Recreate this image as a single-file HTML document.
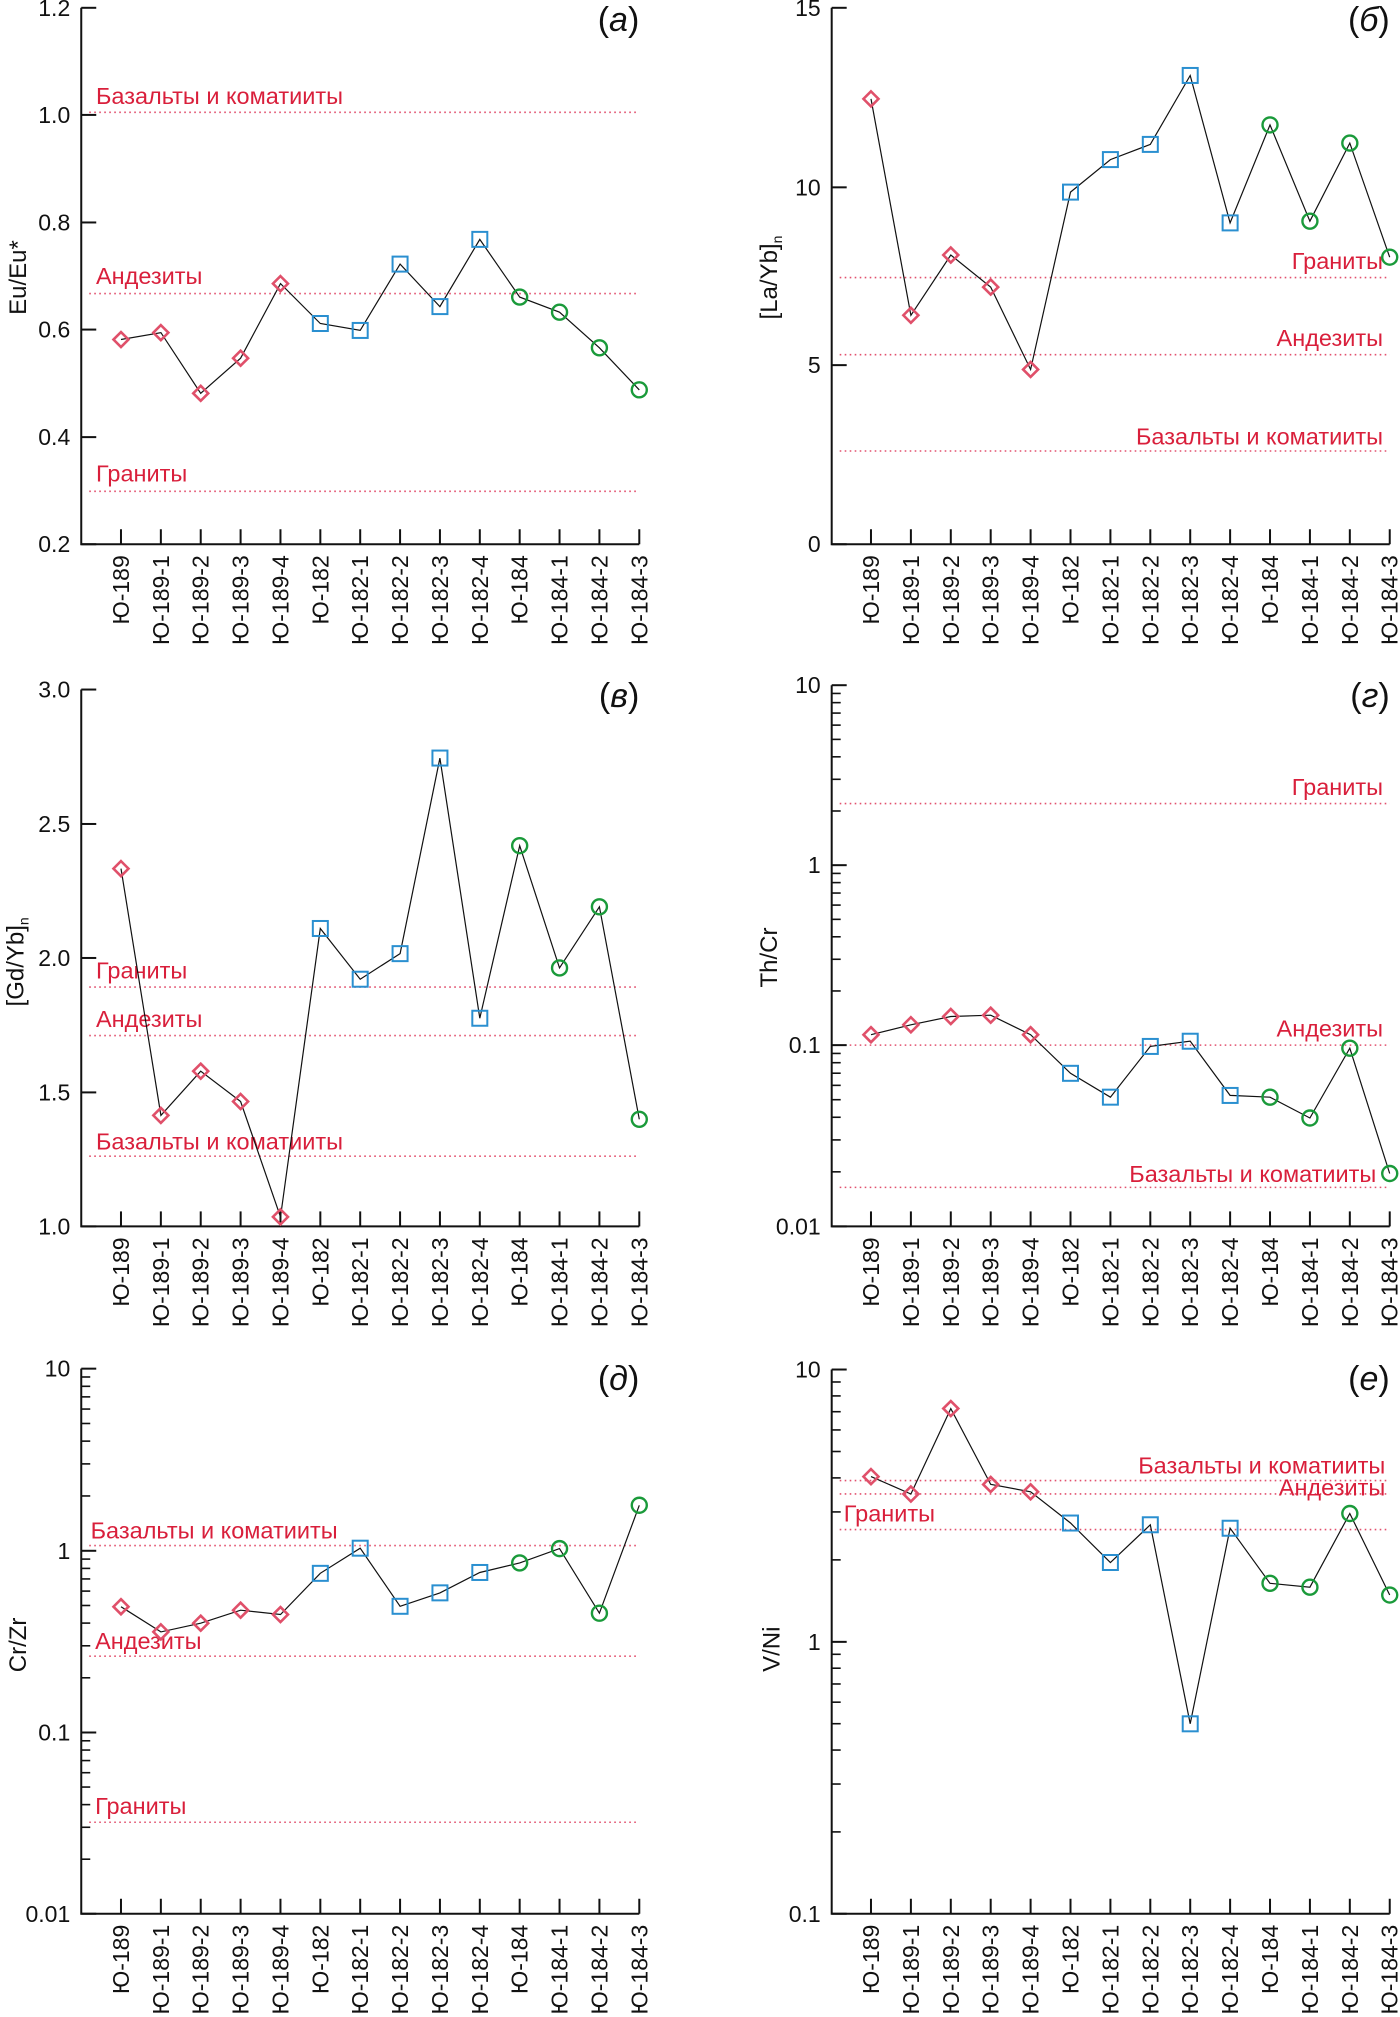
<!DOCTYPE html>
<html><head><meta charset="utf-8">
<style>
html,body{margin:0;padding:0;background:#fff;}
svg{display:block;}
text{font-family:"Liberation Sans",Arial,sans-serif;}
</style></head>
<body>
<svg id="s" width="1400" height="2017" xmlns="http://www.w3.org/2000/svg"></svg>
<script>
var NS="http://www.w3.org/2000/svg";
var S=document.getElementById('s');
function el(t,a,txt){var e=document.createElementNS(NS,t);for(var k in a)e.setAttribute(k,a[k]);if(txt!==undefined)e.textContent=txt;S.appendChild(e);return e;}
var labels=["Ю-189","Ю-189-1","Ю-189-2","Ю-189-3","Ю-189-4","Ю-182","Ю-182-1","Ю-182-2","Ю-182-3","Ю-182-4","Ю-184","Ю-184-1","Ю-184-2","Ю-184-3"];
var RED="#d91f3b",LRED="#e2506e",PINK="#e0506a",BLUE="#2a8fd0",GREEN="#1a9a3a";
var panels=[
{xo:0,yo:0,ax:182,t0:271,t1:1432,top:18,bot:1255,lin:[["1.2",18],["1.0",265],["0.8",513],["0.6",760],["0.4",1008],["0.2",1255]],
 h:[[259,"Базальты и коматииты",215,240,"start"],[677,"Андезиты",215,655,"start"],[1133,"Граниты",215,1110,"start"]],
 pts:[783,767,907,826,654,746,762,609,707,552,685,720,802,899],lab:"а",lb:72,title:"Eu/Eu*",tx:40,ty:640},
{xo:700,yo:0,ax:295,t0:383,t1:1545,top:18,bot:1255,lin:[["15",18],["10",432],["5",842],["0",1255]],
 h:[[640,"Граниты",1530,620,"end"],[818,"Андезиты",1530,798,"end"],[1040,"Базальты и коматииты",1530,1025,"end"]],
 pts:[228,727,588,662,852,443,368,333,174,514,288,510,330,593],lab:"б",lb:72,title:"[La/Yb]",sub:"n",tx:155,ty:640},
{xo:0,yo:680,ax:182,t0:271,t1:1432,top:22,bot:1260,lin:[["3.0",22],["2.5",332],["2.0",641],["1.5",951],["1.0",1260]],
 h:[[708,"Граниты",215,688,"start"],[820,"Андезиты",215,800,"start"],[1098,"Базальты и коматииты",215,1083,"start"]],
 pts:[435,1004,902,972,1238,573,690,631,180,780,382,664,523,1013],lab:"в",lb:62,title:"[Gd/Yb]",sub:"n",tx:35,ty:650},
{xo:700,yo:680,ax:295,t0:383,t1:1545,top:12,bot:1260,log:[["10",12],["1",427],["0.1",842],["0.01",1260]],
 h:[[285,"Граниты",1530,265,"end"],[842,"Андезиты",1530,822,"end"],[1170,"Базальты и коматииты",1515,1158,"end"]],
 pts:[818,795,776,773,818,907,962,845,833,958,962,1010,849,1138],lab:"г",lb:62,title:"Th/Cr",tx:155,ty:640},
{xo:0,yo:1337,ax:182,t0:271,t1:1432,top:73,bot:1330,log:[["10",73],["1",493],["0.1",912],["0.01",1330]],
 h:[[481,"Базальты и коматииты",203,465,"start"],[736,"Андезиты",213,720,"start"],[1119,"Граниты",213,1100,"start"]],
 pts:[622,680,660,630,640,545,487,621,590,543,521,488,637,388],lab:"д",lb:122,title:"Cr/Zr",tx:40,ty:710},
{xo:700,yo:1337,ax:295,t0:383,t1:1545,top:75,bot:1330,log:[["10",75],["1",703],["0.1",1330]],
 h:[[331,"Базальты и коматииты",1535,315,"end"],[362,"Андезиты",1535,366,"end"],[444,"Граниты",322,425,"start"]],
 pts:[322,362,165,340,357,429,520,433,892,441,568,577,407,595],lab:"е",lb:122,title:"V/Ni",tx:160,ty:720}
];
panels.forEach(function(p){
 var X=function(z){return p.xo+z/2.24;}, Y=function(z){return p.yo+z/2.306;};
 var ax=X(p.ax), x1=X(p.t1), yb=Y(p.bot), yt=Y(p.top);
 p.h.forEach(function(h){
  el('line',{x1:ax+8,x2:x1,y1:Y(h[0]),y2:Y(h[0]),stroke:LRED,'stroke-width':1.6,'stroke-dasharray':'1.6 3.4'});
  el('text',{x:X(h[2]),y:Y(h[3]),'font-size':23.5,fill:RED,'text-anchor':h[4]},h[1]);
 });
 el('path',{d:'M'+ax+' '+yt+' L'+ax+' '+yb+' L'+x1+' '+yb,fill:'none',stroke:'#111','stroke-width':2});
 var tl=p.lin||p.log;
 tl.forEach(function(t){var y=Y(t[1]);
  el('line',{x1:ax,x2:ax+15,y1:y,y2:y,stroke:'#111','stroke-width':2});
  el('text',{x:ax-11,y:y+8,'font-size':23,'text-anchor':'end',fill:'#111'},t[0]);});
 if(p.log){for(var i=0;i<p.log.length-1;i++){var ya=Y(p.log[i+1][1]),yh=Y(p.log[i][1]);
  for(var m=2;m<=9;m++){var y=ya-(ya-yh)*Math.log10(m);
   el('line',{x1:ax,x2:ax+9,y1:y,y2:y,stroke:'#111','stroke-width':1.6});}}}
 var xs=[];for(var i=0;i<14;i++){var x=X(p.t0+i*(p.t1-p.t0)/13);xs.push(x);
  el('line',{x1:x,x2:x,y1:yb,y2:yb-15,stroke:'#111','stroke-width':2});
  el('text',{transform:'translate('+(x+8)+','+(yb+11)+') rotate(-90)','font-size':23,'text-anchor':'end',fill:'#111'},labels[i]);}
 var d='';for(var i=0;i<14;i++)d+=(i?'L':'M')+xs[i].toFixed(1)+' '+Y(p.pts[i]).toFixed(1)+' ';
 el('path',{d:d,fill:'none',stroke:'#111','stroke-width':1.2});
 for(var i=0;i<14;i++){var x=xs[i],y=Y(p.pts[i]);
  if(i<5)el('path',{d:'M'+x+' '+(y-7.5)+' L'+(x+7.5)+' '+y+' L'+x+' '+(y+7.5)+' L'+(x-7.5)+' '+y+' Z',fill:'none',stroke:PINK,'stroke-width':2.6});
  else if(i<10)el('rect',{x:x-7.5,y:y-7.5,width:15,height:15,fill:'none',stroke:BLUE,'stroke-width':2});
  else el('circle',{cx:x,cy:y,r:7.5,fill:'none',stroke:GREEN,'stroke-width':2.4});}
 var lt=el('text',{x:x1,y:Y(p.lb),'font-size':34,'text-anchor':'end','font-family':'"Liberation Serif",serif',fill:'#111'});
 var a=document.createElementNS(NS,'tspan');a.textContent='(';lt.appendChild(a);
 var b=document.createElementNS(NS,'tspan');b.setAttribute('font-style','italic');b.textContent=p.lab;lt.appendChild(b);
 var c=document.createElementNS(NS,'tspan');c.textContent=')';lt.appendChild(c);
 var tx=X(p.tx),ty=Y(p.ty);
 var t=el('text',{transform:'translate('+(tx+8)+','+ty+') rotate(-90)','font-size':24,'text-anchor':'middle',fill:'#111'},p.title);
 if(p.sub){var ts=document.createElementNS(NS,'tspan');ts.setAttribute('font-size',14);ts.setAttribute('dy',5);ts.textContent=p.sub;t.appendChild(ts);}
});
</script>
</body></html>
